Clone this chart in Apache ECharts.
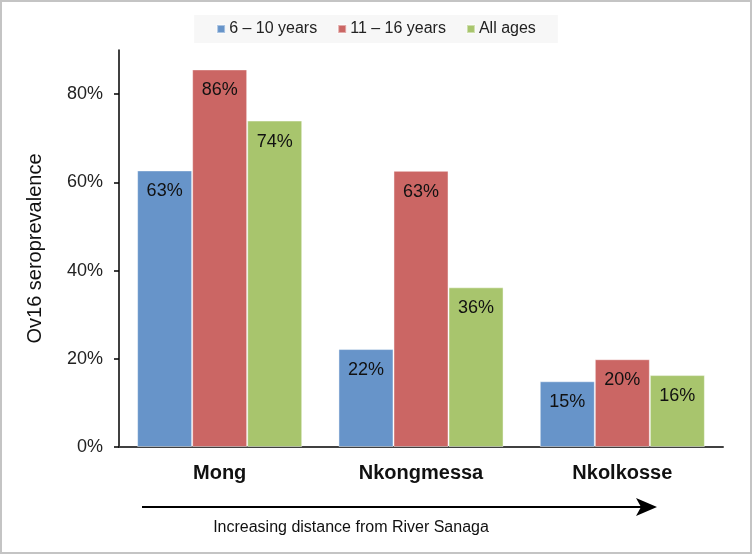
<!DOCTYPE html>
<html><head><meta charset="utf-8">
<script src="https://cdn.jsdelivr.net/npm/echarts@6/dist/echarts.min.js"></script>
<style>html,body{margin:0;padding:0;background:#fff}#c{width:752px;height:554px}</style>
</head><body><div id="c"></div>
<script>
const categories = ['Mong', 'Nkongmessa', 'Nkolkosse'];
const seriesNames = ['6 \u2013 10 years', '11 \u2013 16 years', 'All ages'];
const age6to10 = [62.7, 22.2, 14.9];
const age11to16 = [85.6, 62.6, 19.9];
const allAges = [74.0, 36.2, 16.3];
const yTicks = [0, 20, 40, 60, 80];
const colors = ['#6794c9', '#cb6664', '#a8c56d'];
const FONT = 'Liberation Sans, Arial, sans-serif';

const chart = echarts.init(document.getElementById('c'));
const mk = (name, data, color) => ({
  name, type: 'bar', data,
  barGap: '0%', barCategoryGap: '18%',
  itemStyle: { color, borderColor: 'rgba(255,255,255,0.45)', borderWidth: 1 },
  label: { show: true, position: 'insideTop', distance: 12, color: '#111', fontSize: 18, fontFamily: FONT,
    formatter: p => Math.round(p.value) + '%' }
});
chart.setOption({
  animation: false,
  textStyle: { fontFamily: FONT },
  legend: {
    top: 15, left: 'center', padding: [6, 22], itemGap: 20,
    backgroundColor: '#f7f7f7',
    icon: 'rect', itemWidth: 8, itemHeight: 8,
    textStyle: { fontSize: 16, color: '#222', fontFamily: FONT, padding: [0, 0, 0, -1] },
    data: seriesNames
  },
  grid: { left: 119, right: 29, top: 50, bottom: 107, containLabel: false },
  xAxis: {
    type: 'category', data: categories,
    axisLine: { lineStyle: { color: '#404040', width: 2 } },
    axisTick: { show: false },
    axisLabel: { fontSize: 20, fontWeight: 'bold', color: '#111', margin: 16, fontFamily: FONT }
  },
  yAxis: {
    type: 'value', min: 0, max: 90, interval: 20,
    name: 'Ov16 seroprevalence', nameLocation: 'middle', nameGap: 74, nameRotate: 90,
    nameTextStyle: { fontSize: 20, color: '#111', fontFamily: FONT },
    axisLine: { show: true, lineStyle: { color: '#000', width: 1.5 } },
    axisTick: { show: true, length: 5, lineStyle: { color: '#000', width: 1.5 }, customValues: yTicks },
    axisLabel: { fontSize: 18, color: '#222', margin: 16, customValues: yTicks, formatter: v => v + '%', fontFamily: FONT },
    splitLine: { show: false }
  },
  series: [
    mk(seriesNames[0], age6to10, colors[0]),
    mk(seriesNames[1], age11to16, colors[1]),
    mk(seriesNames[2], allAges, colors[2])
  ],
  graphic: [
    { type: 'rect', shape: { x: 1, y: 1, width: 750, height: 552 }, style: { fill: 'none', stroke: '#c4c4c4', lineWidth: 2 }, silent: true },
    { type: 'line', shape: { x1: 142, y1: 507, x2: 645, y2: 507 }, style: { stroke: '#000', lineWidth: 2 } },
    { type: 'polygon', shape: { points: [[636, 498], [657, 507], [636, 516], [641, 507]] }, style: { fill: '#000' } },
    { type: 'text', style: { text: 'Increasing distance from River Sanaga', x: 351, y: 528, align: 'center', verticalAlign: 'middle', fontSize: 16, fill: '#111', fontFamily: FONT } }
  ]
});
</script></body></html>
